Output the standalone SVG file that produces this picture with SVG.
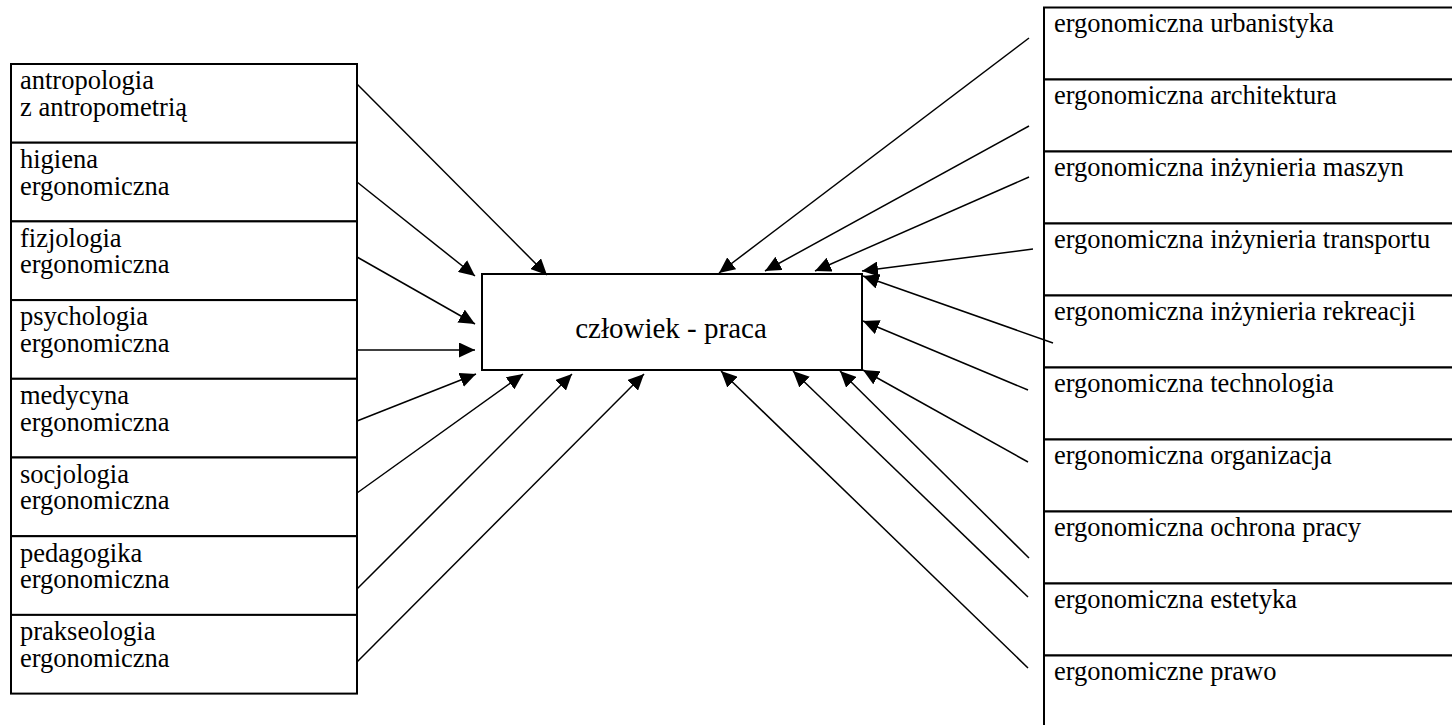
<svg xmlns="http://www.w3.org/2000/svg" width="1452" height="725" viewBox="0 0 1452 725">
<style>
.box{fill:#fff;stroke:#000;stroke-width:2}
.t{font-size:26.5px;fill:#000}
.c{font-size:29px;fill:#000;text-anchor:middle}
.ln{stroke:#000;stroke-width:1.5;fill:none;marker-end:url(#ah)}
</style>
<defs>
<marker id="ah" markerUnits="userSpaceOnUse" markerWidth="17" markerHeight="15" refX="16" refY="7.5" orient="auto" viewBox="0 0 17 15">
<path d="M0,0 L16,7.5 L0,15 z" fill="#000"/>
</marker>
</defs>
<rect width="1452" height="725" fill="#fff"/>
<g font-family="Liberation Serif, Times New Roman, serif">
<g id="left">
<g id="n-antropologia"><rect class="box" x="11" y="64" width="346" height="78.7"/><text class="t" x="20" y="89.3">antropologia</text><text class="t" x="20" y="115.8">z antropometrią</text></g>
<g id="n-higiena"><rect class="box" x="11" y="142.7" width="346" height="78.7"/><text class="t" x="20" y="168">higiena</text><text class="t" x="20" y="194.5">ergonomiczna</text></g>
<g id="n-fizjologia"><rect class="box" x="11" y="221.4" width="346" height="78.7"/><text class="t" x="20" y="246.7">fizjologia</text><text class="t" x="20" y="273.2">ergonomiczna</text></g>
<g id="n-psychologia"><rect class="box" x="11" y="300.1" width="346" height="78.7"/><text class="t" x="20" y="325.4">psychologia</text><text class="t" x="20" y="351.9">ergonomiczna</text></g>
<g id="n-medycyna"><rect class="box" x="11" y="378.8" width="346" height="78.7"/><text class="t" x="20" y="404.1">medycyna</text><text class="t" x="20" y="430.6">ergonomiczna</text></g>
<g id="n-socjologia"><rect class="box" x="11" y="457.5" width="346" height="78.7"/><text class="t" x="20" y="482.8">socjologia</text><text class="t" x="20" y="509.3">ergonomiczna</text></g>
<g id="n-pedagogika"><rect class="box" x="11" y="536.2" width="346" height="78.7"/><text class="t" x="20" y="561.5">pedagogika</text><text class="t" x="20" y="588">ergonomiczna</text></g>
<g id="n-prakseologia"><rect class="box" x="11" y="614.9" width="346" height="78.7"/><text class="t" x="20" y="640.2">prakseologia</text><text class="t" x="20" y="666.7">ergonomiczna</text></g>
</g>
<g id="n-center"><rect class="box" x="482" y="274" width="380" height="96"/><text class="c" x="671" y="338">człowiek - praca</text></g>
<g id="right">
<g id="n-urbanistyka"><rect class="box" x="1044" y="7.5" width="420" height="72"/><text class="t" x="1054" y="32">ergonomiczna urbanistyka</text></g>
<g id="n-architektura"><rect class="box" x="1044" y="79.5" width="420" height="72"/><text class="t" x="1054" y="104">ergonomiczna architektura</text></g>
<g id="n-maszyn"><rect class="box" x="1044" y="151.5" width="420" height="72"/><text class="t" x="1054" y="176">ergonomiczna inżynieria maszyn</text></g>
<g id="n-transportu"><rect class="box" x="1044" y="223.5" width="420" height="72"/><text class="t" x="1054" y="248">ergonomiczna inżynieria transportu</text></g>
<g id="n-rekreacji"><rect class="box" x="1044" y="295.5" width="420" height="72"/><text class="t" x="1054" y="320">ergonomiczna inżynieria rekreacji</text></g>
<g id="n-technologia"><rect class="box" x="1044" y="367.5" width="420" height="72"/><text class="t" x="1054" y="392">ergonomiczna technologia</text></g>
<g id="n-organizacja"><rect class="box" x="1044" y="439.5" width="420" height="72"/><text class="t" x="1054" y="464">ergonomiczna organizacja</text></g>
<g id="n-ochrona"><rect class="box" x="1044" y="511.5" width="420" height="72"/><text class="t" x="1054" y="536">ergonomiczna ochrona pracy</text></g>
<g id="n-estetyka"><rect class="box" x="1044" y="583.5" width="420" height="72"/><text class="t" x="1054" y="608">ergonomiczna estetyka</text></g>
<g id="n-prawo"><rect class="box" x="1044" y="655.5" width="420" height="72"/><text class="t" x="1054" y="680">ergonomiczne prawo</text></g>
</g>
</g>
<g id="connectors">
<line class="ln" x1="357" y1="84" x2="547" y2="275"/>
<line class="ln" x1="357" y1="182" x2="475" y2="276"/>
<line class="ln" x1="357" y1="257" x2="475" y2="324"/>
<line class="ln" x1="357" y1="350" x2="475" y2="350"/>
<line class="ln" x1="357" y1="421" x2="476" y2="374"/>
<line class="ln" x1="357" y1="493" x2="523" y2="374"/>
<line class="ln" x1="357" y1="589" x2="572" y2="374"/>
<line class="ln" x1="357" y1="662" x2="644" y2="374"/>
<line class="ln" x1="1029" y1="38" x2="719" y2="273"/>
<line class="ln" x1="1029" y1="126" x2="765" y2="271"/>
<line class="ln" x1="1029" y1="177" x2="815" y2="271"/>
<line class="ln" x1="1033" y1="249" x2="862" y2="271"/>
<line class="ln" x1="1053" y1="343" x2="863" y2="276"/>
<line class="ln" x1="1028" y1="390" x2="863" y2="321"/>
<line class="ln" x1="1028" y1="462" x2="863" y2="370"/>
<line class="ln" x1="1029" y1="558" x2="840" y2="371"/>
<line class="ln" x1="1028" y1="597" x2="793" y2="371"/>
<line class="ln" x1="1028" y1="668" x2="721" y2="371"/>
</g>
</svg>
